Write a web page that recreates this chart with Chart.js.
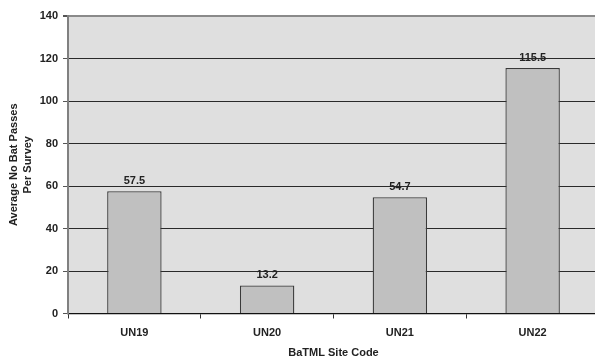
<!DOCTYPE html>
<html>
<head>
<meta charset="utf-8">
<script src="https://cdn.jsdelivr.net/npm/chart.js@4/dist/chart.umd.min.js"></script>
<style>
    body { margin: 0; background: #fff; overflow: hidden; }
    #wrap { width: 599px; height: 358px; }
</style>
</head>
<body>
<div id="wrap"><canvas id="chart"></canvas></div>
<script>
const siteCodes = ['UN19', 'UN20', 'UN21', 'UN22'];
const avgPasses = [57.5, 13.2, 54.7, 115.5];
const yTicks = [0, 20, 40, 60, 80, 100, 120, 140];

const fontFamily = '"Liberation Sans", Arial, sans-serif';

// grey plot background
const plotBackground = {
    id: 'plotBackground',
    beforeDraw(chart) {
        const { ctx, chartArea } = chart;
        ctx.save();
        ctx.fillStyle = '#dfdfdf';
        ctx.fillRect(chartArea.left, chartArea.top, chartArea.right - chartArea.left, chartArea.bottom - chartArea.top);
        ctx.restore();
    }
};

// value labels above the bars
const valueLabels = {
    id: 'valueLabels',
    afterDatasetsDraw(chart) {
        const ctx = chart.ctx;
        const meta = chart.getDatasetMeta(0);
        ctx.save();
        ctx.font = 'bold 11px ' + fontFamily;
        ctx.fillStyle = '#222';
        ctx.textAlign = 'center';
        ctx.textBaseline = 'bottom';
        meta.data.forEach((bar, i) => {
            ctx.fillText(avgPasses[i].toFixed(1), bar.x, bar.y - 5);
        });
        ctx.restore();
    }
};

const ctx = document.getElementById('chart').getContext('2d');
new Chart(ctx, {
    type: 'bar',
    data: {
        labels: siteCodes,
        datasets: [{
            data: avgPasses,
            backgroundColor: '#c0c0c0',
            borderColor: '#3a3a3a',
            borderWidth: 1.3,
            barPercentage: 0.41,
            categoryPercentage: 1
        }]
    },
    options: {
        responsive: true,
        maintainAspectRatio: false,
        animation: false,
        layout: { padding: { top: 16, right: 0, left: 0, bottom: 0 } },
        plugins: {
            legend: { display: false },
            tooltip: { enabled: false }
        },
        scales: {
            x: {
                afterFit(scale) { scale.height = 44.5; },
                grid: {
                    offset: true,
                    drawOnChartArea: false,
                    drawTicks: true,
                    tickLength: 5,
                    color: '#333'
                },
                border: { color: '#111', width: 1.3 },
                ticks: {
                    color: '#222',
                    padding: 8,
                    font: { family: fontFamily, size: 11, weight: 'bold' }
                },
                title: {
                    display: true,
                    text: 'BaTML Site Code',
                    color: '#222',
                    padding: { top: 0, bottom: 0 },
                    font: { family: fontFamily, size: 11, weight: 'bold', lineHeight: 1 }
                }
            },
            y: {
                min: 0,
                max: 140,
                afterFit(scale) { scale.width = 68; },
                afterBuildTicks(scale) {
                    scale.ticks = yTicks.map(v => ({ value: v }));
                },
                grid: {
                    color: c => c.tick && c.tick.value === 140 ? '#8a8a8a' : '#2a2a2a',
                    lineWidth: c => c.tick && c.tick.value === 140 ? 2 : 1,
                    tickColor: '#555',
                    tickLength: 5
                },
                border: { color: '#808080', width: 2 },
                ticks: {
                    color: '#222',
                    padding: 5,
                    font: { family: fontFamily, size: 11, weight: 'bold' }
                },
                title: {
                    display: true,
                    text: ['Average No Bat Passes', 'Per Survey'],
                    color: '#222',
                    padding: { top: 7, bottom: 0 },
                    font: { family: fontFamily, size: 11, weight: 'bold', lineHeight: 1.3 }
                }
            }
        }
    },
    plugins: [plotBackground, valueLabels]
});
</script>
</body>
</html>
